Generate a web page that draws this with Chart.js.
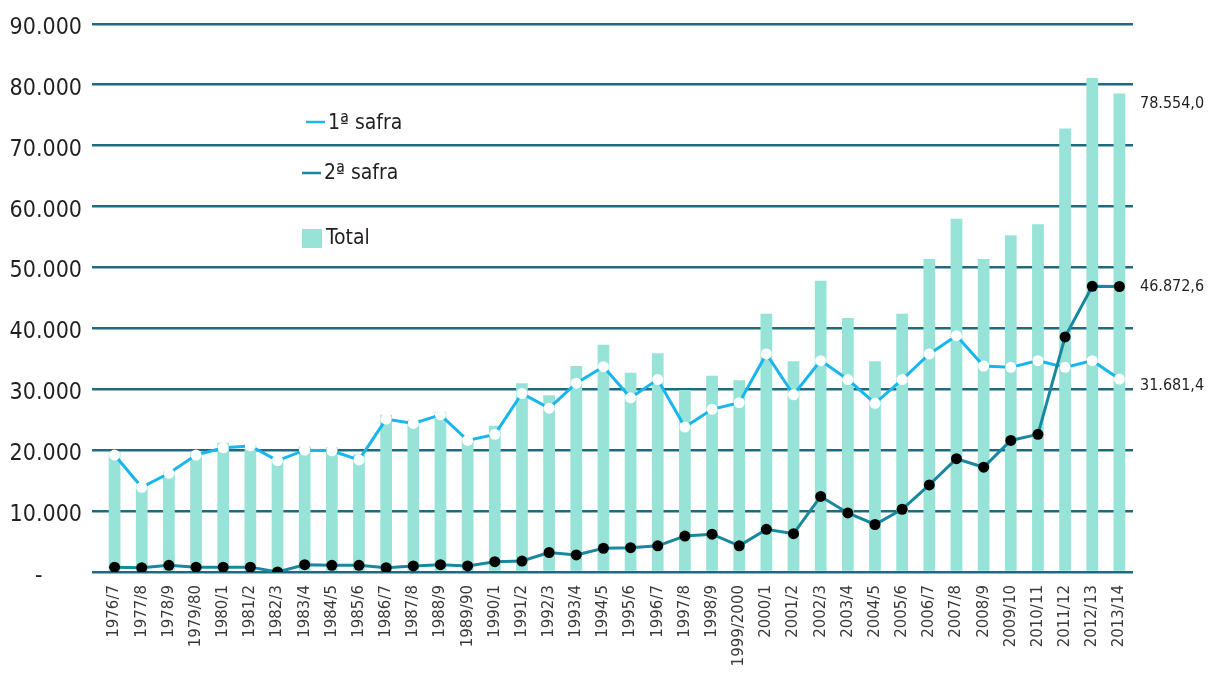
<!DOCTYPE html>
<html>
<head>
<meta charset="utf-8">
<script src="https://cdn.jsdelivr.net/npm/chart.js@4"></script>
<style>
  html, body { margin: 0; padding: 0; background: #fff; }
  #wrap { width: 1208px; height: 677px; }
</style>
</head>
<body>
<div id="wrap"><canvas id="chart" width="1208" height="677"></canvas></div>
<script>
// safras (x axis)
const safras = ['1976/7', '1977/8', '1978/9', '1979/80', '1980/1', '1981/2', '1982/3', '1983/4', '1984/5', '1985/6',
  '1986/7', '1987/8', '1988/9', '1989/90', '1990/1', '1991/2', '1992/3', '1993/4', '1994/5', '1995/6',
  '1996/7', '1997/8', '1998/9', '1999/2000', '2000/1', '2001/2', '2002/3', '2003/4', '2004/5', '2005/6',
  '2006/7', '2007/8', '2008/9', '2009/10', '2010/11', '2011/12', '2012/13', '2013/14'];

// 1a safra
const primeiraSafra = [19200, 13900, 16200, 19200, 20400, 20700, 18300, 20000, 19900, 18400,
  25100, 24400, 25800, 21600, 22600, 29300, 26900, 31000, 33700, 28600,
  31600, 23800, 26700, 27800, 35800, 29100, 34700, 31600, 27700, 31600,
  35800, 38800, 33800, 33600, 34700, 33600, 34700, 31681.4];

// 2a safra
const segundaSafra = [800, 700, 1100, 800, 800, 800, 0, 1200, 1100, 1100,
  700, 1000, 1200, 1000, 1700, 1800, 3200, 2800, 3900, 4000,
  4300, 5900, 6200, 4300, 7000, 6300, 12400, 9700, 7800, 10300,
  14300, 18600, 17200, 21600, 22600, 38600, 46900, 46872.6];

// total
const totalSafra = [19700, 14300, 16600, 19800, 21200, 21000, 18600, 20600, 20500, 19300,
  25800, 25000, 26300, 22000, 24000, 31000, 29000, 33800, 37300, 32700,
  35900, 29900, 32200, 31500, 42400, 34600, 47800, 41700, 34600, 42400,
  51400, 58000, 51400, 55300, 57100, 72800, 81100, 78554.0];

const yTicks = [0, 10000, 20000, 30000, 40000, 50000, 60000, 70000, 80000, 90000];

const NARROW = '"DejaVu Sans Condensed", "Liberation Sans Narrow", sans-serif';
const COR_TOTAL = '#97e3d8';
const COR_1A = '#19b6ee';
const COR_2A = '#17889f';
const COR_GRID = '#1f6a7e';

// 12345.6 -> "12.345,6"
function fmtBR(v, dec) {
  const parts = v.toFixed(dec).split('.');
  const inteiro = parts[0].replace(/\B(?=(\d{3})+(?!\d))/g, '.');
  return dec > 0 ? inteiro + ',' + parts[1] : inteiro;
}

// labels next to the last values
const lastLabels = {
  id: 'lastLabels',
  afterDatasetsDraw(chart) {
    const { ctx, chartArea, scales } = chart;
    const n = safras.length - 1;
    const items = [
      { v: totalSafra[n], dy: 10 },
      { v: segundaSafra[n], dy: 0 },
      { v: primeiraSafra[n], dy: 7 }
    ];
    ctx.save();
    ctx.font = '16px ' + NARROW;
    ctx.fillStyle = '#231f20';
    ctx.textAlign = 'left';
    ctx.textBaseline = 'middle';
    items.forEach(it => {
      ctx.fillText(fmtBR(it.v, 1), chartArea.right + 7, scales.y.getPixelForValue(it.v) + it.dy);
    });
    ctx.restore();
  }
};

// legend inside plot
const innerLegend = {
  id: 'innerLegend',
  afterDraw(chart) {
    const ctx = chart.ctx;
    ctx.save();
    ctx.font = '21px ' + NARROW;
    ctx.fillStyle = '#231f20';
    ctx.textBaseline = 'middle';

    ctx.strokeStyle = COR_1A;
    ctx.lineWidth = 2.5;
    ctx.beginPath(); ctx.moveTo(306, 122); ctx.lineTo(325, 122); ctx.stroke();
    ctx.fillText('1ª safra', 328, 124);

    ctx.strokeStyle = COR_2A;
    ctx.beginPath(); ctx.moveTo(302, 173); ctx.lineTo(321, 173); ctx.stroke();
    ctx.fillText('2ª safra', 324, 174);

    ctx.fillStyle = COR_TOTAL;
    ctx.fillRect(302, 229, 20, 19);
    ctx.fillStyle = '#231f20';
    ctx.fillText('Total', 326, 239);
    ctx.restore();
  }
};

const ctx = document.getElementById('chart').getContext('2d');
new Chart(ctx, {
  type: 'bar',
  data: {
    labels: safras,
    datasets: [
      {
        type: 'line',
        label: '2ª safra',
        data: segundaSafra,
        borderColor: COR_2A,
        borderWidth: 3,
        pointRadius: 5.5,
        pointBackgroundColor: '#000',
        pointBorderWidth: 0,
        tension: 0,
        order: 1
      },
      {
        type: 'line',
        label: '1ª safra',
        data: primeiraSafra,
        borderColor: COR_1A,
        borderWidth: 3,
        pointRadius: 5.5,
        pointBackgroundColor: '#fff',
        pointBorderWidth: 0,
        tension: 0,
        order: 2
      },
      {
        label: 'Total',
        data: totalSafra,
        backgroundColor: COR_TOTAL,
        barPercentage: 0.9,
        categoryPercentage: 0.48,
        order: 3
      }
    ]
  },
  options: {
    responsive: false,
    animation: false,
    layout: { padding: { top: 23, right: 75, left: 0, bottom: 0 } },
    plugins: {
      legend: { display: false },
      tooltip: { enabled: false }
    },
    scales: {
      x: {
        grid: { display: false },
        border: { display: false },
        ticks: {
          autoSkip: false,
          minRotation: 90,
          maxRotation: 90,
          padding: 5,
          color: '#3a3a3a',
          font: { family: '"DejaVu Sans", sans-serif', size: 15 }
        },
        afterFit(scale) { scale.height = 105; }
      },
      y: {
        min: 0,
        max: 90000,
        afterBuildTicks(scale) { scale.ticks = yTicks.map(v => ({ value: v })); },
        grid: { color: COR_GRID, lineWidth: 2.5, drawTicks: true, tickLength: 9, tickColor: COR_GRID },
        border: { display: false },
        ticks: {
          padding: 10,
          labelOffset: 4,
          color: '#231f20',
          font: { family: NARROW, size: 23 },
          // the zero mark sits further left, as in the original
          callback: v => v === 0 ? '-\u2007\u2007\u2007' : fmtBR(v, 0)
        },
        afterFit(scale) { scale.width = 101; }
      }
    }
  },
  plugins: [lastLabels, innerLegend]
});
</script>
</body>
</html>
